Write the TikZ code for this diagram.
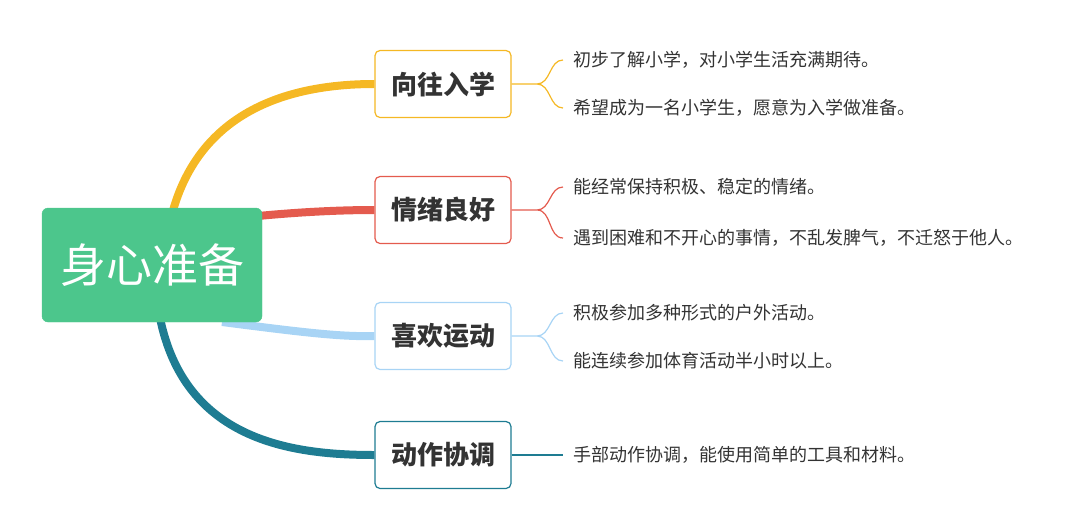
\documentclass[tikz,border=0pt]{standalone}
\usepackage{fontspec}
\setmainfont{Noto Sans CJK SC}
\usetikzlibrary{positioning,backgrounds}
\definecolor{cyel}{HTML}{F5B824}
\definecolor{cred}{HTML}{E45B4E}
\definecolor{cblu}{HTML}{A8D4F5}
\definecolor{cteal}{HTML}{1E7C92}
\definecolor{cgrn}{HTML}{4CC68C}
\definecolor{ctxt}{HTML}{333333}
\tikzset{
  topic/.style={draw=#1,line width=1.2pt,rounded corners=5pt,fill=white,
    minimum width=136pt,minimum height=67pt,font=\fontsize{26}{26}\selectfont\bfseries,text=ctxt},
  leaf/.style={anchor=west,font=\fontsize{18}{18}\selectfont,text=ctxt,inner sep=0pt},
  branch/.style={draw=#1,line width=8pt},
  brace/.style={draw=#1,line width=1.2pt}
}
\begin{document}
\begin{tikzpicture}[x=1pt,y=-1pt]
  \useasboundingbox (0,0) rectangle (1080,531);
  \node[draw=cgrn,fill=cgrn,rounded corners=6pt,minimum width=220pt,minimum height=114pt,
    font=\fontsize{46}{46}\selectfont,text=white] (root) at (152,265) {身心准备};
  \node[topic=cyel]  (t1) at (443,84)  {向往入学};
  \node[topic=cred]  (t2) at (443,210) {情绪良好};
  \node[topic=cblu]  (t3) at (443,336) {喜欢运动};
  \node[topic=cteal] (t4) at (443,455) {动作协调};
  % branches, behind root and topics
  \coordinate (r1) at (172,214);
  \coordinate (r2) at (258,216);
  \coordinate (r3) at (222,322);
  \coordinate (r4) at (160,318);
  \begin{scope}[on background layer]
  \draw[branch=cyel]  (r1) .. controls (200,110) and (290,84) .. (t1.west);
  \draw[branch=cred]  (r2) .. controls (300,212) and (340,210) .. (t2.west);
  \draw[branch=cblu]  (r3) .. controls (300,332) and (340,337) .. (t3.west);
  \draw[branch=cteal] (r4) .. controls (185,440) and (290,455) .. (t4.west);
  \end{scope}
  % leaves
  \node[leaf] (l11) at (573,60)  {初步了解小学，对小学生活充满期待。};
  \node[leaf] (l12) at (573,108) {希望成为一名小学生，愿意为入学做准备。};
  \node[leaf] (l21) at (573,187) {能经常保持积极、稳定的情绪。};
  \node[leaf] (l22) at (573,238) {遇到困难和不开心的事情，不乱发脾气，不迁怒于他人。};
  \node[leaf] (l31) at (573,313) {积极参加多种形式的户外活动。};
  \node[leaf] (l32) at (573,361) {能连续参加体育活动半小时以上。};
  \node[leaf] (l41) at (573,455) {手部动作协调，能使用简单的工具和材料。};
  % braces
  \coordinate (j1) at (537,84);
  \coordinate (j2) at (537,210);
  \coordinate (j3) at (537,336);
  \draw[brace=cyel] (t1.east) -- (j1) to[out=0,in=180] ([xshift=-10pt]l11.west)
    (j1) to[out=0,in=180] ([xshift=-10pt]l12.west);
  \draw[brace=cred] (t2.east) -- (j2) to[out=0,in=180] ([xshift=-10pt]l21.west)
    (j2) to[out=0,in=180] ([xshift=-10pt]l22.west);
  \draw[brace=cblu] (t3.east) -- (j3) to[out=0,in=180] ([xshift=-10pt]l31.west)
    (j3) to[out=0,in=180] ([xshift=-10pt]l32.west);
  \draw[brace=cteal] (t4.east) -- ([xshift=-10pt]l41.west);
\end{tikzpicture}
\end{document}
